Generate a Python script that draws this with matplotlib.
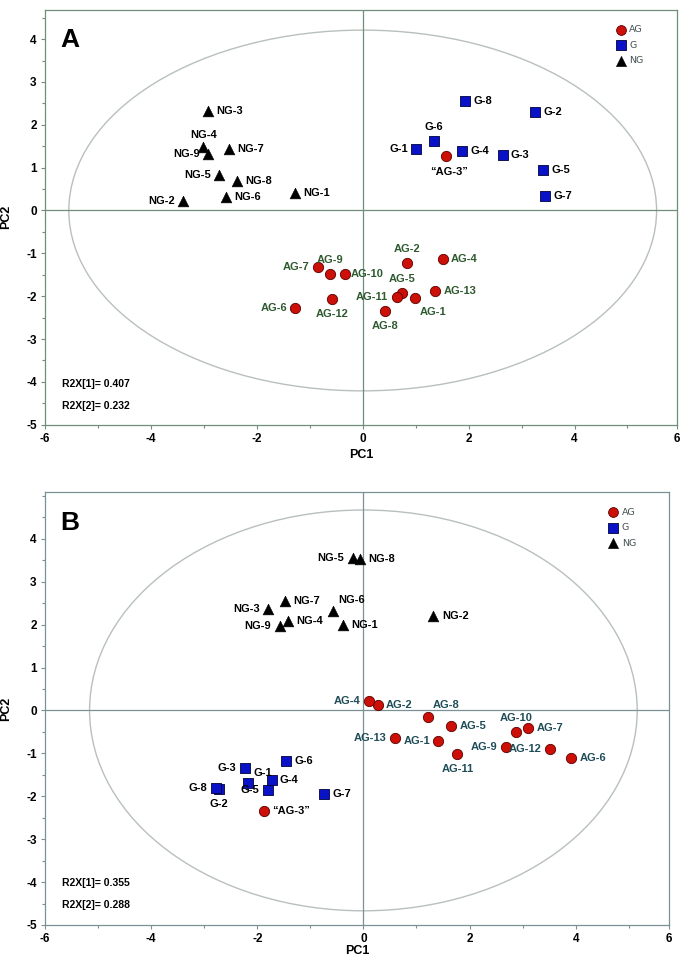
import matplotlib
matplotlib.use('Agg')
import matplotlib.pyplot as plt
from matplotlib.patches import Ellipse
from matplotlib.ticker import MultipleLocator

plt.rcParams['font.family'] = ['Liberation Sans', 'DejaVu Sans']
plt.rcParams['axes.unicode_minus'] = False

# ---- Panel A scores ----
a_ag_names = ["AG-1", "AG-2", "\u201cAG-3\u201d", "AG-4", "AG-5", "AG-6", "AG-7",
              "AG-8", "AG-9", "AG-10", "AG-11", "AG-12", "AG-13"]
a_ag_x = [0.99, 0.84, 1.57, 1.51, 0.75, -1.27, -0.85, 0.43, -0.61, -0.33, 0.64, -0.58, 1.37]
a_ag_y = [-2.04, -1.23, 1.28, -1.14, -1.92, -2.27, -1.32, -2.34, -1.49, -1.49, -2.02, -2.06, -1.88]

a_g_names = ["G-1", "G-2", "G-3", "G-4", "G-5", "G-6", "G-7", "G-8"]
a_g_x = [1.01, 3.25, 2.64, 1.88, 3.41, 1.35, 3.44, 1.93]
a_g_y = [1.43, 2.31, 1.29, 1.39, 0.95, 1.63, 0.33, 2.55]

a_ng_names = ["NG-1", "NG-2", "NG-3", "NG-4", "NG-5", "NG-6", "NG-7", "NG-8", "NG-9"]
a_ng_x = [-1.28, -3.39, -2.93, -3.01, -2.71, -2.59, -2.53, -2.37, -2.92]
a_ng_y = [0.41, 0.23, 2.33, 1.48, 0.83, 0.31, 1.43, 0.68, 1.32]

a_r2x = ["R2X[1]= 0.407", "R2X[2]= 0.232"]

# ---- Panel B scores ----
b_ag_names = a_ag_names
b_ag_x = [1.41, 0.27, -1.87, 0.11, 1.65, 3.92, 3.11, 1.21, 2.69, 2.88, 1.77, 3.52, 0.60]
b_ag_y = [-0.71, 0.13, -2.35, 0.22, -0.37, -1.10, -0.40, -0.16, -0.85, -0.51, -1.01, -0.89, -0.64]

b_g_names = a_g_names
b_g_x = [-2.17, -2.72, -2.24, -1.73, -1.80, -1.46, -0.74, -2.78]
b_g_y = [-1.69, -1.83, -1.34, -1.63, -1.85, -1.17, -1.94, -1.81]

b_ng_names = a_ng_names
b_ng_x = [-0.38, 1.32, -1.79, -1.43, -0.20, -0.58, -1.48, -0.06, -1.58]
b_ng_y = [1.98, 2.19, 2.37, 2.08, 3.56, 2.31, 2.56, 3.54, 1.97]

b_r2x = ["R2X[1]= 0.355", "R2X[2]= 0.288"]

# label placement (offset points, ha); default is to the right
pos_a = {
    "NG-4": (0, 9, 'center'), "NG-9": (-6, 0, 'right'), "NG-5": (-6, 0, 'right'),
    "NG-2": (-6, 0, 'right'),
    "G-6": (0, 10, 'center'), "G-1": (-6, 0, 'right'),
    "\u201cAG-3\u201d": (2, -12, 'center'),
    "AG-2": (0, 10, 'center'), "AG-7": (-6, 0, 'right'), "AG-9": (0, 10, 'center'),
    "AG-5": (0, 10, 'center'), "AG-11": (-6, 0, 'right'), "AG-1": (13, -10, 'center'),
    "AG-12": (0, -11, 'center'), "AG-6": (-6, 0, 'right'), "AG-8": (0, -11, 'center'),
    "AG-10": (4, 0, 'left'),
}
pos_b = {
    "NG-5": (-6, 0, 'right'), "NG-3": (-6, 0, 'right'), "NG-6": (4, 8, 'left'),
    "NG-9": (-6, 0, 'right'),
    "AG-4": (-6, 0, 'right'), "AG-8": (4, 9, 'left'), "AG-13": (-6, 0, 'right'),
    "AG-1": (-6, 0, 'right'), "AG-11": (0, -11, 'center'), "AG-10": (0, 10, 'center'),
    "AG-9": (-6, 0, 'right'), "AG-12": (-6, 0, 'right'),
    "G-3": (-6, 0, 'right'), "G-1": (4, 7, 'left'), "G-5": (-6, 0, 'right'),
    "G-8": (-6, 0, 'right'), "G-2": (0, -10.5, 'center'),
}


def label_points(ax, names, xs, ys, pos, color):
    for n, x, y in zip(names, xs, ys):
        dx, dy, ha = pos.get(n, (6, 0, 'left'))
        c = 'black' if n.startswith('\u201c') else color
        ax.annotate(n, (x, y), xytext=(dx, dy), textcoords='offset points',
                    ha=ha, va='center', fontsize=8, fontweight='bold', color=c)


def draw_panel(ax, letter, ag, g, ng, r2x, pos, xmax, ymax, ell, line_col, ag_col):
    ax.add_patch(Ellipse((0, 0), 2 * ell[0], 2 * ell[1], fill=False,
                         edgecolor='#b8c0bc', lw=1.0, zorder=1))
    ax.axhline(0, color=line_col, lw=0.9, zorder=1)
    ax.axvline(0, color=line_col, lw=0.9, zorder=1)

    ax.scatter(ag[1], ag[2], s=55, marker='o', color='#cc1008', edgecolors='#5a0000',
               linewidths=0.6, zorder=3, label='AG')
    ax.scatter(g[1], g[2], s=52, marker='s', color='#0a12c8', edgecolors='#00003a',
               linewidths=0.6, zorder=3, label='G')
    ax.scatter(ng[1], ng[2], s=60, marker='^', color='black', edgecolors='black',
               linewidths=0.4, zorder=3, label='NG')

    label_points(ax, ng[0], ng[1], ng[2], pos, 'black')
    label_points(ax, g[0], g[1], g[2], pos, 'black')
    label_points(ax, ag[0], ag[1], ag[2], pos, ag_col)

    ax.set_xlim(-6, xmax)
    ax.set_ylim(-5, ymax)
    ax.set_xticks([-6, -4, -2, 0, 2, 4, xmax])
    ax.set_xticklabels(['-6', '-4', '-2', '0', '2', '4', '6'])
    ax.set_yticks(range(-5, 5))
    ax.xaxis.set_minor_locator(MultipleLocator(1))
    ax.yaxis.set_minor_locator(MultipleLocator(0.5))
    ax.tick_params(which='both', direction='out', color=line_col, labelsize=8.5,
                   length=3, width=0.8, pad=3)
    ax.tick_params(which='minor', length=2)
    for lab in ax.get_xticklabels() + ax.get_yticklabels():
        lab.set_fontweight('bold')
    for sp in ax.spines.values():
        sp.set_color(line_col)
        sp.set_linewidth(0.9)

    ax.set_xlabel('PC1', fontsize=9, fontweight='bold')
    ax.set_ylabel('PC2', fontsize=9, fontweight='bold')
    ax.yaxis.set_label_coords(-0.052, 0.5)

    ax.text(0.024, 0.957, letter, transform=ax.transAxes, fontsize=19,
            fontweight='bold', va='top', ha='left')
    ax.text(0.027, 0.098, r2x[0], transform=ax.transAxes, fontsize=7.5,
            fontweight='bold', va='center')
    ax.text(0.027, 0.045, r2x[1], transform=ax.transAxes, fontsize=7.5,
            fontweight='bold', va='center')

    leg = ax.legend(loc='upper right', bbox_to_anchor=(0.955, 0.975), frameon=False,
                    handletextpad=0.5, labelspacing=0.7, borderpad=0,
                    handlelength=0.8, markerscale=0.95,
                    prop={'family': 'DejaVu Sans', 'size': 6.8})
    for t in leg.get_texts():
        t.set_color('#445050')


fig = plt.figure(figsize=(6.85, 9.6), dpi=100)
ax_a = fig.add_axes([0.0657, 0.5576, 0.9222, 0.432])
ax_b = fig.add_axes([0.0657, 0.0365, 0.911, 0.451])

draw_panel(ax_a, 'A', (a_ag_names, a_ag_x, a_ag_y), (a_g_names, a_g_x, a_g_y),
           (a_ng_names, a_ng_x, a_ng_y), a_r2x, pos_a, 5.93, 4.68, (5.55, 4.21),
           '#6f8f7a', '#2f5a30')
ax_a.xaxis.set_label_coords(0.5, -0.058)

draw_panel(ax_b, 'B', (b_ag_names, b_ag_x, b_ag_y), (b_g_names, b_g_x, b_g_y),
           (b_ng_names, b_ng_x, b_ng_y), b_r2x, pos_b, 5.76, 5.09, (5.16, 4.67),
           '#7b9196', '#1f4d57')
ax_b.xaxis.set_label_coords(0.5, -0.047)

fig.savefig('out.png', dpi=100)
